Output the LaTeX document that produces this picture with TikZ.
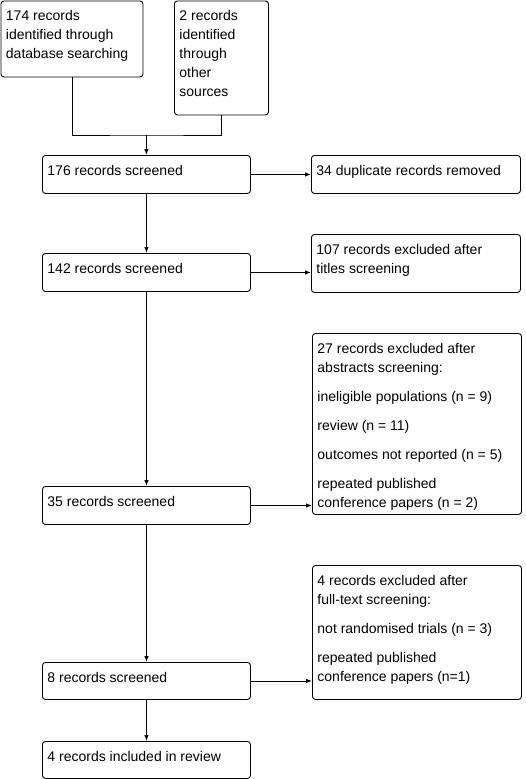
\documentclass[tikz,border=0pt]{standalone}
\usepackage{fontspec}
\setmainfont{Liberation Sans}
\usetikzlibrary{arrows.meta}

%% text of a box: width, height (in pt), lines
\newcommand{\flowtext}[3]{\parbox[t][\dimexpr#2pt-13pt\relax][t]{\dimexpr#1pt-10pt\relax}{\raggedright\strut#3}}

\begin{document}
\begin{tikzpicture}
[x=1pt,y=-1pt,
  boxdecorate/.style={draw,rounded corners=3pt,anchor=north west,inner xsep=5pt,inner ysep=6.5pt,line width=0.9pt,font=\fontsize{14}{19}\selectfont},%
  linedecorate/.style={-,line width=0.9pt},%
  arrowdecorate/.style={-{Latex[length=6pt,width=4.5pt]},line width=0.9pt}]
\useasboundingbox (0,0) rectangle (525,779);
%% identification
\node (dbsearch) at (0.5,0.5) [boxdecorate] {\flowtext{142}{76}{174 records\\identified through\\database searching}};
\node (othersrc) at (174,0.5) [boxdecorate] {\flowtext{94}{114}{2 records\\identified\\through\\other\\sources}};
%% screening, left column
\node (screen1) at (42,155) [boxdecorate] {\flowtext{208}{38}{176 records screened}};
\node (screen2) at (42,253) [boxdecorate] {\flowtext{208}{38}{142 records screened}};
\node (screen3) at (42,486) [boxdecorate] {\flowtext{208}{38}{35 records screened}};
\node (screen4) at (42,662) [boxdecorate] {\flowtext{208}{37}{8 records screened}};
\node (included) at (42,741) [boxdecorate] {\flowtext{208}{37}{4 records included in review}};
%% exclusions, right column
\node (dupl) at (311,155) [boxdecorate] {\flowtext{209}{38}{34 duplicate records removed}};
\node (titles) at (311,234) [boxdecorate] {\flowtext{209}{58}{107 records excluded after\\titles screening}};
\node (abstracts) at (312,333) [boxdecorate] {\flowtext{209}{181}{27 records excluded after\\abstracts screening:\\[10pt]ineligible populations (n = 9)\\[10pt]review (n = 11)\\[10pt]outcomes not reported (n = 5)\\[10pt]repeated published\\conference papers (n = 2)}};
\node (fulltext) at (312,565) [boxdecorate] {\flowtext{209}{134}{4 records excluded after\\full-text screening:\\[10pt]not randomised trials (n = 3)\\[10pt]repeated published\\conference papers (n=1)}};
%% joining the two sources
\path (screen1.north) ++(0,-20) coordinate (join);
\draw[linedecorate] (dbsearch.south) |- (join) -| (othersrc.south);
\draw[arrowdecorate] (join) -- (screen1.north);
%% edges
\path
\foreach \startnode/\endnode in {screen1/screen2, screen2/screen3, screen3/screen4, screen4/included}
{
  (\startnode.south) edge[arrowdecorate] (\endnode.north)
};
\foreach \startnode/\endnode in {screen1/dupl, screen2/titles, screen3/abstracts, screen4/fulltext}
{
  \draw[arrowdecorate] (\startnode.east) -- (\startnode.east -| \endnode.west);
}
\end{tikzpicture}
\end{document}
